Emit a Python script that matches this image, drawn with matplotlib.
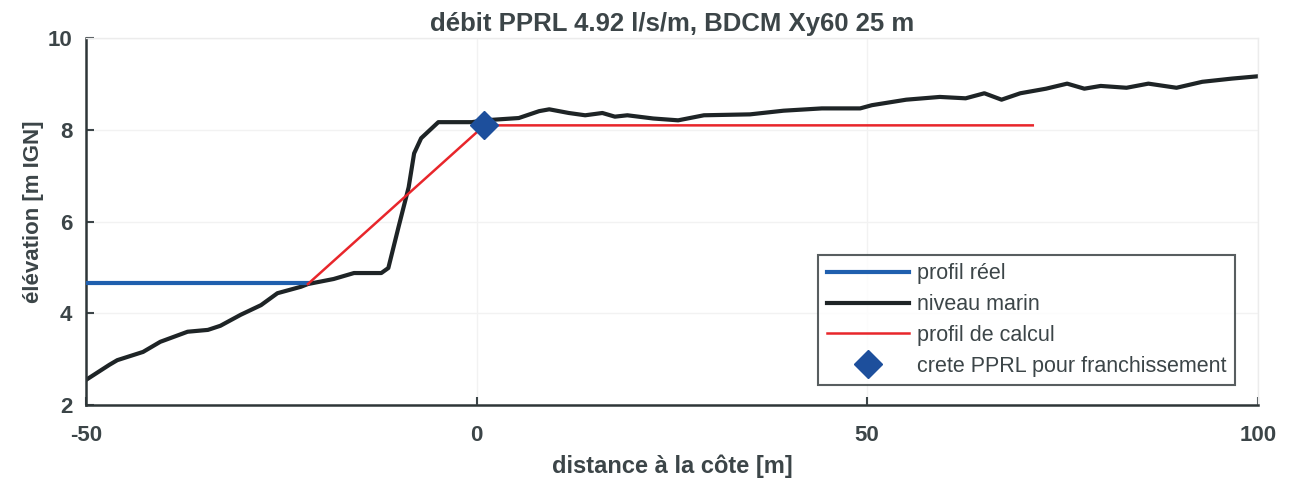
import matplotlib.pyplot as plt
import numpy as np

plt.rcParams['font.family'] = ['Liberation Sans', 'DejaVu Sans']
plt.rcParams['axes.unicode_minus'] = False

# niveau marin (terrain profile)
dist = [-50, -47, -46.0, -42.7, -40.5, -37.0, -34.4, -32.8, -30.2, -27.6, -25.5, -22.5,
        -21.6, -18.3, -15.7, -12.2, -11.3, -10.0, -8.7, -8.0, -7.1, -4.9, -0.6, 1.0,
        5.4, 8.0, 9.3, 11.8, 13.9, 16.1, 17.7, 19.3, 22.6, 25.8, 29.1, 35.0, 39.3,
        44.2, 49.1, 50.6, 55.0, 59.3, 62.6, 65.0, 67.2, 69.6, 72.9, 75.6, 77.8, 79.9,
        83.2, 86.0, 89.6, 92.9, 96.7, 100]
niveau = [2.55, 2.88, 2.98, 3.16, 3.38, 3.60, 3.64, 3.73, 3.97, 4.18, 4.44, 4.58,
          4.64, 4.75, 4.88, 4.88, 4.99, 5.88, 6.75, 7.49, 7.82, 8.17, 8.17, 8.21,
          8.26, 8.41, 8.45, 8.37, 8.32, 8.37, 8.29, 8.32, 8.25, 8.21, 8.32, 8.34, 8.42,
          8.47, 8.47, 8.54, 8.66, 8.72, 8.69, 8.80, 8.66, 8.80, 8.90, 9.01, 8.90, 8.96,
          8.92, 9.01, 8.92, 9.05, 9.12, 9.17]

# profil reel
reel_x = [-50, -21.6]
reel_y = [4.66, 4.66]

# profil de calcul
calc_x = [-21.6, 1.0, 71.2]
calc_y = [4.64, 8.1, 8.1]

# crete PPRL
crete_x = [1.0]
crete_y = [8.1]

txt = '#3c4548'

fig = plt.figure(figsize=(12.9, 4.84), dpi=100)
ax = fig.add_axes([0.0667, 0.163, 0.9083, 0.758])

ax.plot(reel_x, reel_y, color='#1f5fae', lw=3, label='profil réel', zorder=3)
ax.plot(dist, niveau, color='#1e2426', lw=3, label='niveau marin', zorder=2)
ax.plot(calc_x, calc_y, color='#e8262b', lw=1.8, label='profil de calcul', zorder=4)
ax.plot(crete_x, crete_y, marker='D', color='#1d4f9c', markersize=14, ls='none',
        label='crete PPRL pour franchissement', zorder=5)

ax.set_xlim(-50, 100)
ax.set_ylim(2, 10)
ax.set_xticks([-50, 0, 50, 100])
ax.set_yticks([2, 4, 6, 8, 10])
ax.grid(True, color='#f2f2f2', lw=1)
ax.tick_params(direction='in', length=6, width=1.5, colors=txt, labelsize=16)
ax.tick_params(axis='x', pad=14)
ax.tick_params(axis='y', pad=10)
for lab in ax.get_xticklabels() + ax.get_yticklabels():
    lab.set_fontweight('bold')
for s in ['left', 'bottom']:
    ax.spines[s].set_color('#2e3638')
    ax.spines[s].set_linewidth(1.8)
for s in ['top', 'right']:
    ax.spines[s].set_color('#ececec')
    ax.spines[s].set_linewidth(1)

ax.set_title('débit PPRL 4.92 l/s/m, BDCM Xy60 25 m', fontsize=18.5, fontweight='bold',
             color=txt, pad=5)
ax.set_xlabel('distance à la côte [m]', fontsize=17, fontweight='bold', color=txt)
ax.set_ylabel('élévation [m IGN]', fontsize=16, fontweight='bold', color=txt)
ax.xaxis.set_label_coords(0.5, -0.135)
ax.yaxis.set_label_coords(-0.036, 0.526)

leg = ax.legend(loc='lower right', bbox_to_anchor=(0.99, 0.025), fontsize=15.5,
                frameon=True, fancybox=False, edgecolor='#2e3638', handlelength=3.8,
                borderpad=0.4, labelspacing=0.45, handletextpad=0.4)
leg.get_frame().set_linewidth(1.5)
for t in leg.get_texts():
    t.set_color(txt)

fig.savefig('out.png', dpi=100)
